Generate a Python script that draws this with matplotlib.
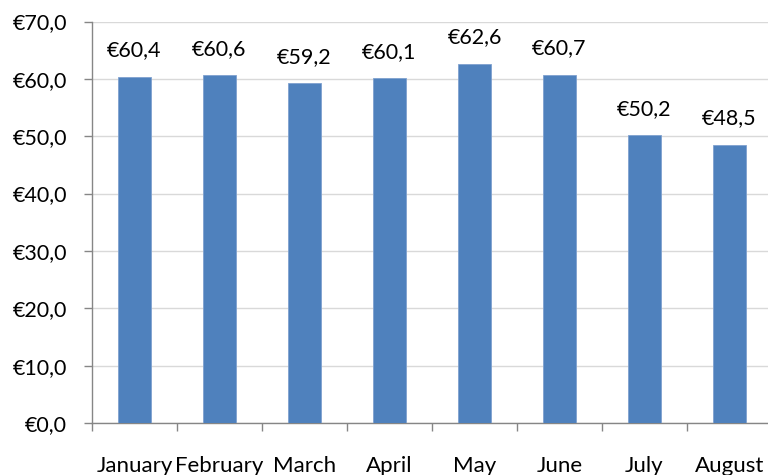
import matplotlib.pyplot as plt
from matplotlib.ticker import FixedLocator

# Dati del grafico
mesi = ["January", "February", "March", "April", "May", "June", "July", "August"]
valori = [60.4, 60.6, 59.2, 60.1, 62.6, 60.7, 50.2, 48.5]
y_ticks = [0, 10, 20, 30, 40, 50, 60, 70]


def euro(v):
    return "€" + f"{v:.1f}".replace(".", ",")


plt.rcParams["font.family"] = ["Lato", "DejaVu Sans"]

fig = plt.figure(figsize=(7.68, 4.75), dpi=100)
ax = fig.add_axes([92 / 768, 1 - 423 / 475, 680 / 768, (423 - 21.5) / 475])

x = list(range(len(mesi)))
ax.bar(x, valori, width=0.39, color="#4F81BD", edgecolor="#7FA1CF", linewidth=0.6, zorder=3)

for xi, v in zip(x, valori):
    ax.annotate(euro(v), (xi, v), xytext=(0, 19), textcoords="offset points",
                ha="center", va="center", fontsize=15.5, color="black")

ax.set_xlim(-0.5, len(mesi) - 0.5)
ax.set_ylim(0, 70)
ax.set_yticks(y_ticks)
ax.set_yticklabels([euro(t) for t in y_ticks], fontsize=15.5)
ax.set_xticks(x)
ax.set_xticklabels(mesi, fontsize=16)
ax.xaxis.set_minor_locator(FixedLocator([i + 0.5 for i in range(-1, len(mesi))]))

ax.tick_params(axis="x", which="major", length=0, pad=24)
ax.tick_params(axis="x", which="minor", length=6, color="#868686", width=1)
ax.tick_params(axis="y", which="major", length=6, color="#868686", width=1, pad=12)

ax.grid(axis="y", color="#D9D9D9", linewidth=1, zorder=0)
ax.set_axisbelow(True)
for side in ["top", "right"]:
    ax.spines[side].set_visible(False)
for side in ["left", "bottom"]:
    ax.spines[side].set_color("#868686")
    ax.spines[side].set_linewidth(1)

fig.savefig("out.png", dpi=100)
